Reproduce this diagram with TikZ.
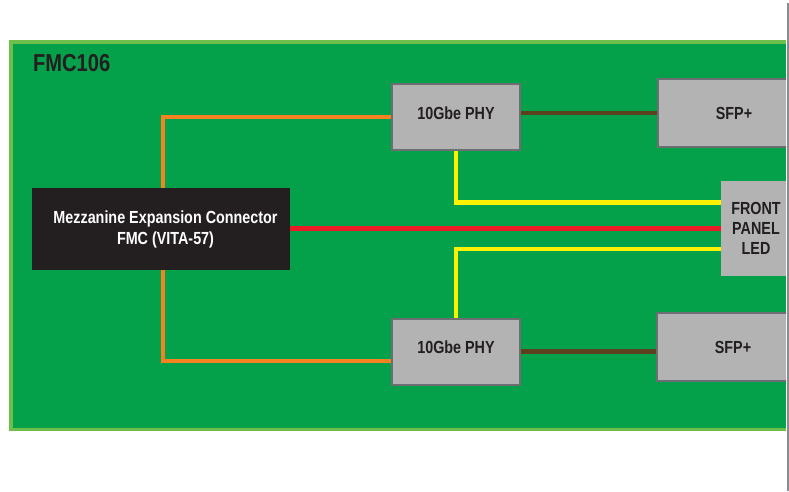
\documentclass[tikz,border=0pt]{standalone}
\usepackage{fontspec}
\setmainfont[FakeStretch=0.82]{Liberation Sans}
\usepackage{tikz}
\usetikzlibrary{positioning,calc}
\usepackage{xcolor}

\definecolor{boardgreen}{HTML}{05A14A}
\definecolor{boardedge}{HTML}{6DBF4B}
\definecolor{chipgray}{HTML}{B3B3B3}
\definecolor{chipedge}{HTML}{6D6E71}
\definecolor{connblack}{HTML}{231F20}
\definecolor{labeldark}{HTML}{231F20}
\definecolor{orangewire}{HTML}{F58220}
\definecolor{yellowwire}{HTML}{FFF200}
\definecolor{redwire}{HTML}{ED1C24}
\definecolor{brownwire}{HTML}{5C4120}
\definecolor{rulegray}{HTML}{8A8C8F}

\begin{document}
\begin{tikzpicture}[
    x=1pt, y=-1pt,
    chip/.style={rectangle, draw=chipedge, line width=2pt, fill=chipgray, minimum width=128pt, minimum height=66pt, align=center, text=labeldark, font=\fontsize{17.5}{21}\selectfont\bfseries},
    phy/.style={chip, text depth=8pt},
    port/.style={chip, minimum width=152pt, minimum height=68pt},
    ledbox/.style={rectangle, fill=chipgray, minimum width=70pt, minimum height=95pt, align=center, text=labeldark, font=\fontsize{17.5}{20}\selectfont\bfseries},
    fmc/.style={rectangle, fill=connblack, minimum width=258pt, minimum height=82pt, align=center, text=white, font=\fontsize{17.5}{21}\selectfont\bfseries},
    wire/.style={line width=4.5pt}
]
\useasboundingbox (0,0) rectangle (789,491);

% Board
\fill[boardedge] (9,40) rectangle (786,431);
\fill[boardgreen] (12.5,44) rectangle (786,427.5);
\node[anchor=base west, inner sep=0pt, text=labeldark, font=\fontsize{24.5}{28}\selectfont\bfseries] (title) at (33,71) {FMC106};
\draw[rulegray, line width=2pt] (788,3) -- (788,491);

% Left - Connector
\node[fmc] (mezz) at (161,229) {\hspace*{9pt}Mezzanine Expansion Connector\\\hspace*{9pt}FMC (VITA-57)};

% Middle - PHYs
\node[phy] (phyA) at (456,117) {10Gbe PHY};
\node[phy] (phyB) at (456,351.5) {10Gbe PHY};

% Right - cages and LED, cut at the board edge
\begin{scope}
\clip (0,0) rectangle (786,491);
\node[port] (sfpA) at (734,113) {SFP+};
\node[port] (sfpB) at (733,347) {SFP+};
\node[ledbox] (led) at (756,228.5) {FRONT\\PANEL\\LED};
\end{scope}

% Wires
\draw[wire, orangewire] ([xshift=2pt]mezz.north) |- (phyA.west);
\draw[wire, orangewire] ([xshift=2pt]mezz.south) |- ([yshift=-9.5pt]phyB.west);
\draw[wire, brownwire] (sfpA.west) -- (sfpA.west -| phyA.east);
\draw[wire, brownwire] (phyB.east) -- (phyB.east -| sfpB.west);
\draw[wire, yellowwire] (phyA.south) |- ([yshift=26pt]led.west);
\draw[wire, yellowwire] ([yshift=-20.5pt]led.west) -| (phyB.north);
\draw[wire, redwire] (led.west) -- (led.west -| mezz.east);

\end{tikzpicture}
\end{document}
